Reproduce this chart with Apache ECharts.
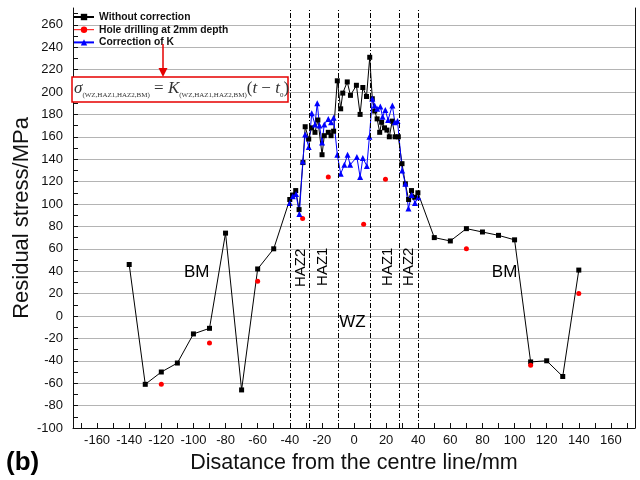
<!DOCTYPE html>
<html>
<head>
<meta charset="utf-8">
<script src="https://cdn.jsdelivr.net/npm/echarts@6/dist/echarts.min.js"></script>
<style>
html,body{margin:0;padding:0;background:#fff}
#main{width:640px;height:480px}
</style>
</head>
<body>
<div id="main"></div>
<script>
// 数据
var blackX = [-140,-130,-120,-110,-100,-90,-80,-70,-60,-50,
  -40,-38.2,-36.3,-34.2,-31.8,-30.4,-28.2,-26.4,-24.3,-22.5,
  -19.9,-18.5,-16,-14.3,-12.7,-10.4,-8.3,-7,-4.2,-2.2,
  1.5,3.8,5.5,7.8,9.8,11.4,12.9,14.4,16,17.2,
  19,20.5,22,23.8,25.6,27.6,29.9,32,34,35.8,
  37.8,39.8,50,60,70,80,90,100,110,120,130,140];
var blackY = [46,-61,-50,-42,-16,-11,74,-66,42,60,
  104,108,112,95,137,169,158,168,164,175,
  144,161,164,161,165,210,185,199,209,197,
  206,180,204,196,231,194,183,176,164,173,
  168,166,160,174,160,160,136,118,104,112,
  106,110,70,67,78,75,72,68,-41,-40,-54,41];

var redX = [-120,-90,-60,-32,-16,6,19.6,70,110,140];
var redY = [-61,-24,31,87,124,82,122,60,-44,20];

var blueX = [-40,-38.1,-36.1,-34,-31.9,-30.4,-28.2,-26.3,-24.3,-22.9,
  -21.5,-19.9,-18.5,-16,-14.3,-12.7,-10.4,-8.3,-6,-4,
  -2.4,1.8,3.8,5.5,8,9.6,11.4,12.9,14.4,16.4,
  17.8,19.5,21.2,23.9,25.4,27.1,30,32,33.9,35.9,38,40];
var blueY = [101,107,109,91,138,162,151,181,171,190,
  170,155,171,176,173,177,144,127,135,144,
  135,142,124,141,134,160,194,188,185,187,
  178,184,175,188,173,174,130,118,96,108,101,106];

var seriesNames = ['Without correction','Hole drilling at 2mm depth','Correction of K'];
var xTickLabels = [-160,-140,-120,-100,-80,-60,-40,-20,0,20,40,60,80,100,120,140,160];
var xTicks = [-170,-160,-150,-140,-130,-120,-110,-100,-90,-80,-70,-60,-50,-40,-30,-20,-10,0,
  10,20,30,40,50,60,70,80,90,100,110,120,130,140,150,160,170];
var yTickLabels = [-100,-80,-60,-40,-20,0,20,40,60,80,100,120,140,160,180,200,220,240,260];
var yTicks = [-100,-90,-80,-70,-60,-50,-40,-30,-20,-10,0,10,20,30,40,50,60,70,80,90,100,
  110,120,130,140,150,160,170,180,190,200,210,220,230,240,250,260,270];
// 区域分界线
var zoneLines = [-40,-28,-10,10,28,40];
// 区域文字
var zoneNames = ['BM','HAZ2','HAZ1','WZ','HAZ1','HAZ2','BM'];
var zoneNameX = [-98,-33.3,-19.5,-1,20.9,33.9,93.8];
var zoneNameY = [39,43,44,-6,44,44,39];

function pairs(xs, ys) {
  var out = [];
  for (var i = 0; i < xs.length; i++) out.push([xs[i], ys[i]]);
  return out;
}

var FONT = 'Liberation Sans, Arial, sans-serif';
var SERIF = 'Liberation Serif, DejaVu Serif, serif';

var zoneData = [];
for (var i = 0; i < zoneNames.length; i++) {
  var rotated = zoneNames[i].indexOf('HAZ') === 0;
  zoneData.push({
    name: zoneNames[i],
    value: [zoneNameX[i], zoneNameY[i]],
    label: {rotate: rotated ? 90 : 0, fontSize: rotated ? 15 : 17, color: '#000'}
  });
}

var lineMarks = [];
for (var j = 0; j < zoneLines.length; j++) lineMarks.push({xAxis: zoneLines[j]});

var myChart = echarts.init(document.getElementById('main'));
var option = {
  animation: false,
  backgroundColor: '#fff',
  grid: {left: 73, right: 5, top: 8, bottom: 52, outerBoundsMode: 'none', containLabel: false},
  legend: {
    orient: 'vertical',
    left: 73,
    top: 11,
    padding: 0,
    itemWidth: 20,
    itemHeight: 8,
    itemGap: 0.7,
    textStyle: {fontFamily: FONT, fontSize: 10.3, fontWeight: 'bold', color: '#111', lineHeight: 12},
    data: [
      {name: seriesNames[0]},
      {name: seriesNames[1], lineStyle: {opacity: 1, width: 1, color: '#ff0000'}},
      {name: seriesNames[2]}
    ]
  },
  xAxis: {
    type: 'value',
    min: -175,
    max: 175,
    name: 'Disatance from the centre line/mm',
    nameLocation: 'middle',
    nameGap: 24,
    nameTextStyle: {fontFamily: FONT, fontSize: 21.5, color: '#111'},
    axisLine: {onZero: false, lineStyle: {color: '#111', width: 1}},
    axisTick: {inside: true, length: 5, customValues: xTicks, lineStyle: {color: '#111'}},
    axisLabel: {customValues: xTickLabels, fontFamily: FONT, fontSize: 13, color: '#111', margin: 6},
    splitLine: {show: false}
  },
  yAxis: [{
    type: 'value',
    min: -100,
    max: 275,
    name: 'Residual stress/MPa',
    nameLocation: 'middle',
    nameGap: 40,
    nameMoveOverlap: false,
    nameTextStyle: {fontFamily: FONT, fontSize: 22, color: '#111'},
    axisLine: {show: true, onZero: false, lineStyle: {color: '#111', width: 1}},
    axisTick: {inside: true, length: 5, customValues: yTicks, lineStyle: {color: '#111'}},
    axisLabel: {customValues: yTickLabels, fontFamily: FONT, fontSize: 13, color: '#111', margin: 10},
    splitLine: {show: false}
  }, {
    type: 'value',
    position: 'right',
    min: -100,
    max: 275,
    interval: 20,
    axisLine: {show: true, onZero: false, lineStyle: {color: '#111', width: 1}},
    axisTick: {show: false},
    axisLabel: {show: false},
    splitLine: {show: true, showMinLine: false, showMaxLine: false, lineStyle: {color: '#b4b4b4', width: 1}}
  }],
  series: [
    {
      name: seriesNames[0],
      type: 'line',
      data: pairs(blackX, blackY),
      symbol: 'rect',
      symbolSize: 5,
      color: '#000',
      lineStyle: {color: '#000', width: 1},
      itemStyle: {color: '#000'},
      markLine: {
        silent: true,
        symbol: ['none', 'none'],
        label: {show: false},
        lineStyle: {color: '#000', width: 1, type: [5, 2, 1, 2]},
        data: lineMarks
      }
    },
    {
      name: seriesNames[1],
      type: 'line',
      data: pairs(redX, redY),
      symbol: 'circle',
      symbolSize: 5,
      color: '#ff0000',
      lineStyle: {opacity: 0},
      itemStyle: {color: '#ff0000'}
    },
    {
      name: seriesNames[2],
      type: 'line',
      data: pairs(blueX, blueY),
      symbol: 'triangle',
      symbolSize: 6,
      color: '#0000ff',
      lineStyle: {color: '#0000ff', width: 1},
      itemStyle: {color: '#0000ff'}
    },
    {
      name: 'zones',
      type: 'scatter',
      silent: true,
      symbolSize: 0,
      itemStyle: {opacity: 0},
      data: zoneData,
      label: {show: true, position: 'inside', formatter: '{b}', fontFamily: FONT, color: '#000', textBorderWidth: 0, opacity: 1}
    }
  ],
  graphic: [
    {
      type: 'rect',
      z: 100,
      shape: {x: 72, y: 77, width: 216, height: 25},
      style: {fill: '#fff', stroke: '#e60000', lineWidth: 1.5}
    },
    {
      type: 'text',
      z: 101,
      x: 74,
      y: 79,
      style: {
        text: '{i|σ}{s|(WZ,HAZ1,HAZ2,BM)}{n| = }{i|K}{s|(WZ,HAZ1,HAZ2,BM)}{n|(}{i|t}{n| − }{i|t}{s|0}{n|)}',
        fill: '#333',
        rich: {
          i: {fontFamily: SERIF, fontStyle: 'italic', fontSize: 17, lineHeight: 20, fill: '#333'},
          n: {fontFamily: SERIF, fontSize: 17, lineHeight: 20, fill: '#333'},
          s: {fontFamily: SERIF, fontSize: 7, lineHeight: 20, verticalAlign: 'bottom', fill: '#333'}
        }
      }
    },
    {
      type: 'line',
      z: 100,
      shape: {x1: 163, y1: 44, x2: 163, y2: 70},
      style: {stroke: '#e60000', lineWidth: 1.5}
    },
    {
      type: 'polygon',
      z: 100,
      shape: {points: [[158.5, 68], [167.5, 68], [163, 77]]},
      style: {fill: '#e60000'}
    },
    {
      type: 'text',
      z: 100,
      x: 6,
      y: 450,
      style: {text: '(b)', fontFamily: FONT, fontSize: 26, fontWeight: 'bold', fill: '#000'}
    }
  ]
};
myChart.setOption(option);
</script>
</body>
</html>
